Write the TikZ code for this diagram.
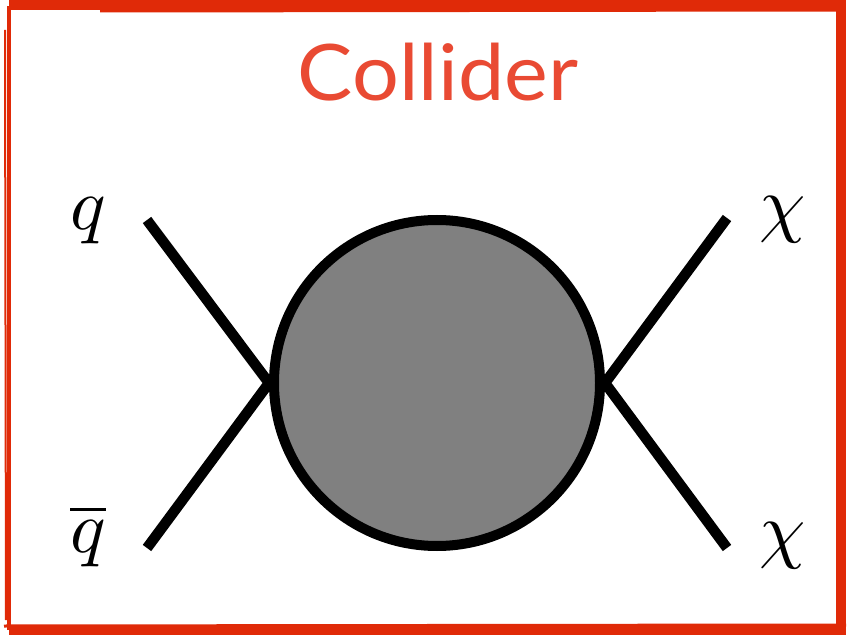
\documentclass[tikz,border=0pt]{standalone}
\usepackage{fontspec}
\setmainfont{Lato}
\usepackage{unicode-math}
\setmathfont{Latin Modern Math}
\definecolor{framered}{HTML}{E02A08}
\definecolor{titlered}{HTML}{E94A33}
\definecolor{blobgray}{HTML}{808080}
\begin{document}
\begin{tikzpicture}[x=1pt,y=-1pt,
  leg/.style={line width=10.5pt, line cap=butt},
  lbl/.style={font=\fontsize{74}{74}\selectfont, inner sep=0pt},
  frame/.style={draw=framered, line width=#1}]
\useasboundingbox (0,0) rectangle (849,636);
\fill[white] (0,0) rectangle (849,636);
% rough frame
\draw[frame=4pt] (9,6) -- (9,630);
\draw[frame=10pt] (9,630) -- (841,630) -- (841,5) -- (9,5);
\draw[frame=3pt] (100,11) -- (845,10);
\draw[frame=2pt] (5,30) -- (6,620);
\draw[frame=3pt] (4,626) -- (846,625);
% title
\node[text=titlered, font=\fontsize{78}{78}\selectfont, inner sep=0pt, anchor=base, xscale=1.06, transform shape] (title) at (438,101) {Collider};
% blob
\node[circle, draw=black, fill=blobgray, line width=10pt, minimum size=326pt, inner sep=0pt] (blob) at (437,383) {};
\coordinate (vl) at (blob.west);
\coordinate (vr) at (blob.east);
\coordinate (q1) at (147,220);
\coordinate (q2) at (147,548);
\coordinate (c1) at (727,218);
\coordinate (c2) at (727,548);
\draw[leg] (q1) -- (vl) -- (q2);
\draw[leg] (c1) -- (vr) -- (c2);
% labels
\node[lbl] (lq) at (88,220) {$q$};
\node[lbl] (lqb) at (88,536) {$\overline{q}$};
\node[lbl] (lc1) at (783,220) {$\chi$};
\node[lbl] (lc2) at (783,546) {$\chi$};
\end{tikzpicture}
\end{document}
